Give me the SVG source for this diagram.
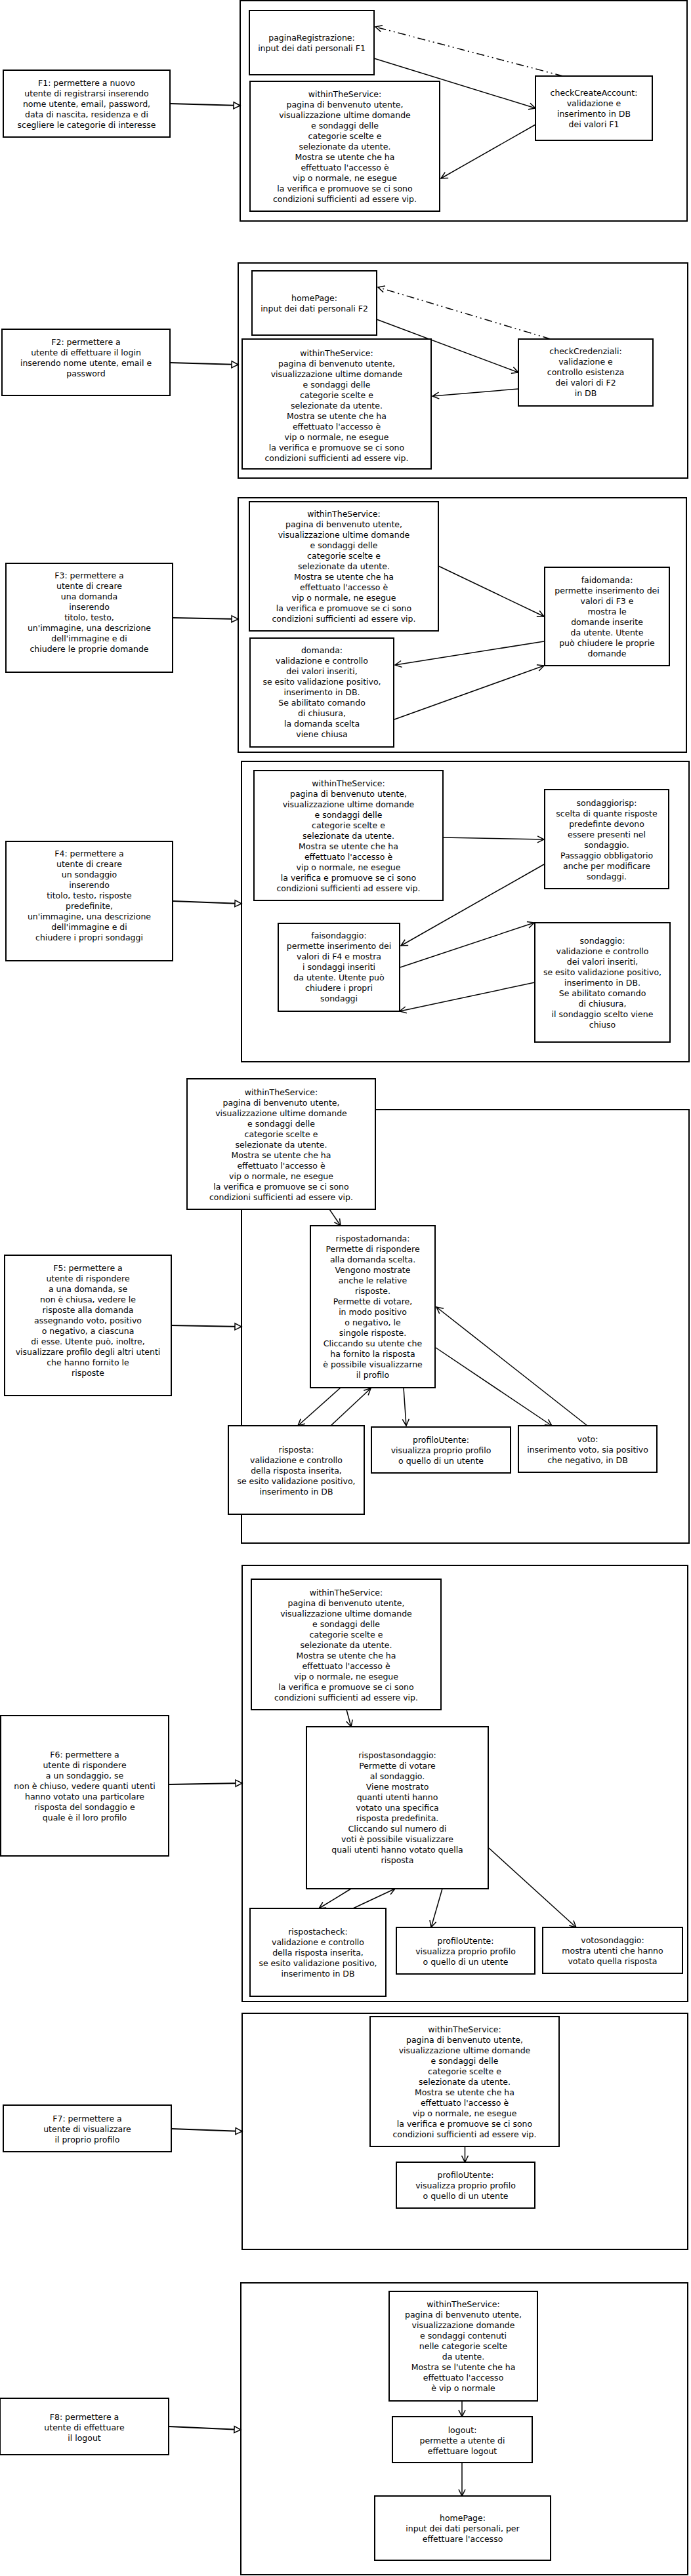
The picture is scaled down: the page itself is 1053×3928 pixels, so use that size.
<svg xmlns="http://www.w3.org/2000/svg" width="1053" height="3928" viewBox="0 0 1053 3928">
<style>
.frame{fill:none;stroke:#000;stroke-width:2}
.box{fill:#fff;stroke:#000;stroke-width:2}
.c{fill:none;stroke:#000;stroke-width:1.5;marker-end:url(#open)}
.f{fill:none;stroke:#000;stroke-width:2;marker-end:url(#tri)}
.dd{stroke-dasharray:12 5 2 5 2 5}
text{font-family:"DejaVu Sans","Liberation Sans",sans-serif;font-size:12.5px;text-anchor:middle;fill:#000}
</style>
<defs>
<marker id="open" markerWidth="12" markerHeight="12" refX="10" refY="5" orient="auto" markerUnits="userSpaceOnUse" overflow="visible"><path d="M0,0 L10,5 L0,10" fill="none" stroke="#000" stroke-width="1.5"/></marker>
<marker id="tri" markerWidth="12" markerHeight="12" refX="10" refY="5" orient="auto" markerUnits="userSpaceOnUse" overflow="visible"><path d="M0,0 L10,5 L0,10 Z" fill="#fff" stroke="#000" stroke-width="1.5"/></marker>
</defs>

<!-- containers -->
<g id="container1"><rect class="frame" x="366" y="1" width="681" height="336"/></g>
<g id="container2"><rect class="frame" x="363" y="401" width="685" height="328"/></g>
<g id="container3"><rect class="frame" x="363" y="759" width="683" height="388"/></g>
<g id="container4"><rect class="frame" x="368" y="1161" width="682" height="458"/></g>
<g id="container5"><rect class="frame" x="368" y="1692" width="682" height="661"/></g>
<g id="container6"><rect class="frame" x="369" y="2387" width="679" height="665"/></g>
<g id="container7"><rect class="frame" x="369" y="3070" width="679" height="360"/></g>
<g id="container8"><rect class="frame" x="367" y="3481" width="681" height="445"/></g>

<g id="connectors">
<!-- section 1 -->
<line class="f" x1="259" y1="158" x2="366" y2="161"/>
<line class="c" x1="570" y1="89" x2="816" y2="165"/>
<line class="c" x1="816" y1="190" x2="672" y2="272"/>
<line class="c dd" x1="858" y1="116" x2="572" y2="41"/>
<!-- section 2 -->
<line class="f" x1="259" y1="553" x2="363" y2="556"/>
<line class="c" x1="574" y1="487" x2="790" y2="568"/>
<line class="c" x1="790" y1="593" x2="659" y2="604"/>
<line class="c dd" x1="839" y1="517" x2="576" y2="438"/>
<!-- section 3 -->
<line class="f" x1="263" y1="942" x2="363" y2="944"/>
<line class="c" x1="668" y1="863" x2="829" y2="940"/>
<line class="c" x1="829" y1="978" x2="602" y2="1014"/>
<line class="c" x1="601" y1="1097" x2="829" y2="1015"/>
<!-- section 4 -->
<line class="f" x1="263" y1="1374" x2="368" y2="1378"/>
<line class="c" x1="675" y1="1277" x2="829" y2="1280"/>
<line class="c" x1="829" y1="1318" x2="611" y2="1442"/>
<line class="c" x1="610" y1="1475" x2="814" y2="1407"/>
<line class="c" x1="815" y1="1498" x2="609" y2="1542"/>
<!-- section 5 -->
<line class="f" x1="261" y1="2021" x2="368" y2="2023"/>
<line class="c" x1="502" y1="1844" x2="519" y2="1869"/>
<line class="c" x1="895" y1="2174" x2="665" y2="1993"/>
<line class="c" x1="664" y1="2055" x2="841" y2="2174"/>
<line class="c" x1="615" y1="2116" x2="619" y2="2174"/>
<line class="c" x1="519" y1="2116" x2="454" y2="2174"/>
<line class="c" x1="504" y1="2174" x2="565" y2="2117"/>
<!-- section 6 -->
<line class="f" x1="257" y1="2721" x2="369" y2="2719"/>
<line class="c" x1="528" y1="2607" x2="535" y2="2633"/>
<line class="c" x1="535" y1="2880" x2="486" y2="2910"/>
<line class="c" x1="538" y1="2910" x2="602" y2="2880"/>
<line class="c" x1="674" y1="2880" x2="657" y2="2939"/>
<line class="c" x1="745" y1="2818" x2="878" y2="2939"/>
<!-- section 7 -->
<line class="f" x1="261" y1="3246" x2="369" y2="3250"/>
<line class="c" x1="708.5" y1="3273" x2="708.5" y2="3297"/>
<!-- section 8 -->
<line class="f" x1="257" y1="3700" x2="367" y2="3705"/>
<line class="c" x1="704" y1="3661" x2="704" y2="3685"/>
<line class="c" x1="704" y1="3755" x2="704" y2="3806"/>
</g>

<!-- Section 1 -->
<g id="F1"><rect class="box" x="5" y="107" width="254" height="102"/>
<text x="132" y="130.5"><tspan x="132">F1: permettere a nuovo</tspan><tspan x="132" dy="16">utente di registrarsi inserendo</tspan><tspan x="132" dy="16">nome utente, email, password,</tspan><tspan x="132" dy="16">data di nascita, residenza e di</tspan><tspan x="132" dy="16">scegliere le categorie di interesse</tspan></text></g>
<g id="paginaRegistrazione"><rect class="box" x="380" y="16" width="190" height="98"/>
<text x="475" y="61.8"><tspan x="475">paginaRegistrazione:</tspan><tspan x="475" dy="16">input dei dati personali F1</tspan></text></g>
<g id="withinTheService1"><rect class="box" x="381" y="124" width="289" height="198"/>
<text x="525.5" y="147.8"><tspan x="525.5">withinTheService:</tspan><tspan x="525.5" dy="16">pagina di benvenuto utente,</tspan><tspan x="525.5" dy="16">visualizzazione ultime domande</tspan><tspan x="525.5" dy="16">e sondaggi delle</tspan><tspan x="525.5" dy="16">categorie scelte e</tspan><tspan x="525.5" dy="16">selezionate da utente.</tspan><tspan x="525.5" dy="16">Mostra se utente che ha</tspan><tspan x="525.5" dy="16">effettuato l'accesso è</tspan><tspan x="525.5" dy="16">vip o normale, ne esegue</tspan><tspan x="525.5" dy="16">la verifica e promuove se ci sono</tspan><tspan x="525.5" dy="16">condizioni sufficienti ad essere vip.</tspan></text></g>
<g id="checkCreateAccount"><rect class="box" x="816" y="116" width="178" height="98"/>
<text x="905" y="145.8"><tspan x="905">checkCreateAccount:</tspan><tspan x="905" dy="16">validazione e</tspan><tspan x="905" dy="16">inserimento in DB</tspan><tspan x="905" dy="16">dei valori F1</tspan></text></g>

<!-- Section 2 -->
<g id="F2"><rect class="box" x="3" y="502" width="256" height="101"/>
<text x="131" y="525.5"><tspan x="131">F2: permettere a</tspan><tspan x="131" dy="16">utente di effettuare il login</tspan><tspan x="131" dy="16">inserendo nome utente, email e</tspan><tspan x="131" dy="16">password</tspan></text></g>
<g id="homePage1"><rect class="box" x="384" y="413" width="190" height="98"/>
<text x="479" y="459"><tspan x="479">homePage:</tspan><tspan x="479" dy="16">input dei dati personali F2</tspan></text></g>
<g id="withinTheService2"><rect class="box" x="369" y="517" width="288" height="198"/>
<text x="513" y="543"><tspan x="513">withinTheService:</tspan><tspan x="513" dy="16">pagina di benvenuto utente,</tspan><tspan x="513" dy="16">visualizzazione ultime domande</tspan><tspan x="513" dy="16">e sondaggi delle</tspan><tspan x="513" dy="16">categorie scelte e</tspan><tspan x="513" dy="16">selezionate da utente.</tspan><tspan x="513" dy="16">Mostra se utente che ha</tspan><tspan x="513" dy="16">effettuato l'accesso è</tspan><tspan x="513" dy="16">vip o normale, ne esegue</tspan><tspan x="513" dy="16">la verifica e promuove se ci sono</tspan><tspan x="513" dy="16">condizioni sufficienti ad essere vip.</tspan></text></g>
<g id="checkCredenziali"><rect class="box" x="790" y="517" width="205" height="102"/>
<text x="892.5" y="539.5"><tspan x="892.5">checkCredenziali:</tspan><tspan x="892.5" dy="16">validazione e</tspan><tspan x="892.5" dy="16">controllo esistenza</tspan><tspan x="892.5" dy="16">dei valori di F2</tspan><tspan x="892.5" dy="16">in DB</tspan></text></g>

<!-- Section 3 -->
<g id="F3"><rect class="box" x="9" y="859" width="254" height="166"/>
<text x="136" y="882.2"><tspan x="136">F3: permettere a</tspan><tspan x="136" dy="16">utente di creare</tspan><tspan x="136" dy="16">una domanda</tspan><tspan x="136" dy="16">inserendo</tspan><tspan x="136" dy="16">titolo, testo,</tspan><tspan x="136" dy="16">un'immagine, una descrizione</tspan><tspan x="136" dy="16">dell'immagine e di</tspan><tspan x="136" dy="16">chiudere le proprie domande</tspan></text></g>
<g id="withinTheService3"><rect class="box" x="380" y="765" width="288" height="197"/>
<text x="524" y="787.8"><tspan x="524">withinTheService:</tspan><tspan x="524" dy="16">pagina di benvenuto utente,</tspan><tspan x="524" dy="16">visualizzazione ultime domande</tspan><tspan x="524" dy="16">e sondaggi delle</tspan><tspan x="524" dy="16">categorie scelte e</tspan><tspan x="524" dy="16">selezionate da utente.</tspan><tspan x="524" dy="16">Mostra se utente che ha</tspan><tspan x="524" dy="16">effettuato l'accesso è</tspan><tspan x="524" dy="16">vip o normale, ne esegue</tspan><tspan x="524" dy="16">la verifica e promuove se ci sono</tspan><tspan x="524" dy="16">condizioni sufficienti ad essere vip.</tspan></text></g>
<g id="domanda"><rect class="box" x="381" y="973" width="219" height="166"/>
<text x="490.5" y="996.2"><tspan x="490.5">domanda:</tspan><tspan x="490.5" dy="16">validazione e controllo</tspan><tspan x="490.5" dy="16">dei valori inseriti,</tspan><tspan x="490.5" dy="16">se esito validazione positivo,</tspan><tspan x="490.5" dy="16">inserimento in DB.</tspan><tspan x="490.5" dy="16">Se abilitato comando</tspan><tspan x="490.5" dy="16">di chiusura,</tspan><tspan x="490.5" dy="16">la domanda scelta</tspan><tspan x="490.5" dy="16">viene chiusa</tspan></text></g>
<g id="faidomanda"><rect class="box" x="830" y="865" width="190" height="150"/>
<text x="925" y="888.8"><tspan x="925">faidomanda:</tspan><tspan x="925" dy="16">permette inserimento dei</tspan><tspan x="925" dy="16">valori di F3 e</tspan><tspan x="925" dy="16">mostra le</tspan><tspan x="925" dy="16">domande inserite</tspan><tspan x="925" dy="16">da utente. Utente</tspan><tspan x="925" dy="16">può chiudere le proprie</tspan><tspan x="925" dy="16">domande</tspan></text></g>

<!-- Section 4 -->
<g id="F4"><rect class="box" x="9" y="1283" width="254" height="182"/>
<text x="136" y="1306.2"><tspan x="136">F4: permettere a</tspan><tspan x="136" dy="16">utente di creare</tspan><tspan x="136" dy="16">un sondaggio</tspan><tspan x="136" dy="16">inserendo</tspan><tspan x="136" dy="16">titolo, testo, risposte</tspan><tspan x="136" dy="16">predefinite,</tspan><tspan x="136" dy="16">un'immagine, una descrizione</tspan><tspan x="136" dy="16">dell'immagine e di</tspan><tspan x="136" dy="16">chiudere i propri sondaggi</tspan></text></g>
<g id="withinTheService4"><rect class="box" x="387" y="1175" width="288" height="198"/>
<text x="531" y="1198.8"><tspan x="531">withinTheService:</tspan><tspan x="531" dy="16">pagina di benvenuto utente,</tspan><tspan x="531" dy="16">visualizzazione ultime domande</tspan><tspan x="531" dy="16">e sondaggi delle</tspan><tspan x="531" dy="16">categorie scelte e</tspan><tspan x="531" dy="16">selezionate da utente.</tspan><tspan x="531" dy="16">Mostra se utente che ha</tspan><tspan x="531" dy="16">effettuato l'accesso è</tspan><tspan x="531" dy="16">vip o normale, ne esegue</tspan><tspan x="531" dy="16">la verifica e promuove se ci sono</tspan><tspan x="531" dy="16">condizioni sufficienti ad essere vip.</tspan></text></g>
<g id="sondaggiorisp"><rect class="box" x="830" y="1204" width="189" height="151"/>
<text x="924.5" y="1228.5"><tspan x="924.5">sondaggiorisp:</tspan><tspan x="924.5" dy="16">scelta di quante risposte</tspan><tspan x="924.5" dy="16">predefinte devono</tspan><tspan x="924.5" dy="16">essere presenti nel</tspan><tspan x="924.5" dy="16">sondaggio.</tspan><tspan x="924.5" dy="16">Passaggio obbligatorio</tspan><tspan x="924.5" dy="16">anche per modificare</tspan><tspan x="924.5" dy="16">sondaggi.</tspan></text></g>
<g id="faisondaggio"><rect class="box" x="424" y="1408" width="185" height="134"/>
<text x="516.5" y="1431.2"><tspan x="516.5">faisondaggio:</tspan><tspan x="516.5" dy="16">permette inserimento dei</tspan><tspan x="516.5" dy="16">valori di F4 e mostra</tspan><tspan x="516.5" dy="16">i sondaggi inseriti</tspan><tspan x="516.5" dy="16">da utente. Utente può</tspan><tspan x="516.5" dy="16">chiudere i propri</tspan><tspan x="516.5" dy="16">sondaggi</tspan></text></g>
<g id="sondaggio"><rect class="box" x="815" y="1407" width="206" height="182"/>
<text x="918" y="1438.5"><tspan x="918">sondaggio:</tspan><tspan x="918" dy="16">validazione e controllo</tspan><tspan x="918" dy="16">dei valori inseriti,</tspan><tspan x="918" dy="16">se esito validazione positivo,</tspan><tspan x="918" dy="16">inserimento in DB.</tspan><tspan x="918" dy="16">Se abilitato comando</tspan><tspan x="918" dy="16">di chiusura,</tspan><tspan x="918" dy="16">il sondaggio scelto viene</tspan><tspan x="918" dy="16">chiuso</tspan></text></g>

<!-- Section 5 -->
<g id="F5"><rect class="box" x="7" y="1914" width="254" height="214"/>
<text x="134" y="1937.8"><tspan x="134">F5: permettere a</tspan><tspan x="134" dy="16">utente di rispondere</tspan><tspan x="134" dy="16">a una domanda, se</tspan><tspan x="134" dy="16">non è chiusa, vedere le</tspan><tspan x="134" dy="16">risposte alla domanda</tspan><tspan x="134" dy="16">assegnando voto, positivo</tspan><tspan x="134" dy="16">o negativo, a ciascuna</tspan><tspan x="134" dy="16">di esse. Utente può, inoltre,</tspan><tspan x="134" dy="16">visualizzare profilo degli altri utenti</tspan><tspan x="134" dy="16">che hanno fornito le</tspan><tspan x="134" dy="16">risposte</tspan></text></g>
<g id="withinTheService5"><rect class="box" x="285" y="1645" width="287" height="199"/>
<text x="428.5" y="1669.5"><tspan x="428.5">withinTheService:</tspan><tspan x="428.5" dy="16">pagina di benvenuto utente,</tspan><tspan x="428.5" dy="16">visualizzazione ultime domande</tspan><tspan x="428.5" dy="16">e sondaggi delle</tspan><tspan x="428.5" dy="16">categorie scelte e</tspan><tspan x="428.5" dy="16">selezionate da utente.</tspan><tspan x="428.5" dy="16">Mostra se utente che ha</tspan><tspan x="428.5" dy="16">effettuato l'accesso è</tspan><tspan x="428.5" dy="16">vip o normale, ne esegue</tspan><tspan x="428.5" dy="16">la verifica e promuove se ci sono</tspan><tspan x="428.5" dy="16">condizioni sufficienti ad essere vip.</tspan></text></g>
<g id="rispostadomanda"><rect class="box" x="473" y="1869" width="190" height="247"/>
<text x="568" y="1892.8"><tspan x="568">rispostadomanda:</tspan><tspan x="568" dy="16">Permette di rispondere</tspan><tspan x="568" dy="16">alla domanda scelta.</tspan><tspan x="568" dy="16">Vengono mostrate</tspan><tspan x="568" dy="16">anche le relative</tspan><tspan x="568" dy="16">risposte.</tspan><tspan x="568" dy="16">Permette di votare,</tspan><tspan x="568" dy="16">in modo positivo</tspan><tspan x="568" dy="16">o negativo, le</tspan><tspan x="568" dy="16">singole risposte.</tspan><tspan x="568" dy="16">Cliccando su utente che</tspan><tspan x="568" dy="16">ha fornito la risposta</tspan><tspan x="568" dy="16">è possibile visualizzarne</tspan><tspan x="568" dy="16">il profilo</tspan></text></g>
<g id="risposta"><rect class="box" x="348" y="2174" width="207" height="135"/>
<text x="451.5" y="2214.5"><tspan x="451.5">risposta:</tspan><tspan x="451.5" dy="16">validazione e controllo</tspan><tspan x="451.5" dy="16">della risposta inserita,</tspan><tspan x="451.5" dy="16">se esito validazione positivo,</tspan><tspan x="451.5" dy="16">inserimento in DB</tspan></text></g>
<g id="profiloUtente5"><rect class="box" x="566" y="2176" width="212" height="70"/>
<text x="672" y="2199.5"><tspan x="672">profiloUtente:</tspan><tspan x="672" dy="16">visualizza proprio profilo</tspan><tspan x="672" dy="16">o quello di un utente</tspan></text></g>
<g id="voto"><rect class="box" x="790" y="2174" width="211" height="71"/>
<text x="895.5" y="2198.5"><tspan x="895.5">voto:</tspan><tspan x="895.5" dy="16">inserimento voto, sia positivo</tspan><tspan x="895.5" dy="16">che negativo, in DB</tspan></text></g>

<!-- Section 6 -->
<g id="F6"><rect class="box" x="1" y="2616" width="256" height="214"/>
<text x="129" y="2679.5"><tspan x="129">F6: permettere a</tspan><tspan x="129" dy="16">utente di rispondere</tspan><tspan x="129" dy="16">a un sondaggio, se</tspan><tspan x="129" dy="16">non è chiuso, vedere quanti utenti</tspan><tspan x="129" dy="16">hanno votato una particolare</tspan><tspan x="129" dy="16">risposta del sondaggio e</tspan><tspan x="129" dy="16">quale è il loro profilo</tspan></text></g>
<g id="withinTheService6"><rect class="box" x="383" y="2408" width="289" height="199"/>
<text x="527.5" y="2432.8"><tspan x="527.5">withinTheService:</tspan><tspan x="527.5" dy="16">pagina di benvenuto utente,</tspan><tspan x="527.5" dy="16">visualizzazione ultime domande</tspan><tspan x="527.5" dy="16">e sondaggi delle</tspan><tspan x="527.5" dy="16">categorie scelte e</tspan><tspan x="527.5" dy="16">selezionate da utente.</tspan><tspan x="527.5" dy="16">Mostra se utente che ha</tspan><tspan x="527.5" dy="16">effettuato l'accesso è</tspan><tspan x="527.5" dy="16">vip o normale, ne esegue</tspan><tspan x="527.5" dy="16">la verifica e promuove se ci sono</tspan><tspan x="527.5" dy="16">condizioni sufficienti ad essere vip.</tspan></text></g>
<g id="rispostasondaggio"><rect class="box" x="467" y="2633" width="277" height="247"/>
<text x="605.5" y="2680.5"><tspan x="605.5">rispostasondaggio:</tspan><tspan x="605.5" dy="16">Permette di votare</tspan><tspan x="605.5" dy="16">al sondaggio.</tspan><tspan x="605.5" dy="16">Viene mostrato</tspan><tspan x="605.5" dy="16">quanti utenti hanno</tspan><tspan x="605.5" dy="16">votato una specifica</tspan><tspan x="605.5" dy="16">risposta predefinita.</tspan><tspan x="605.5" dy="16">Cliccando sul numero di</tspan><tspan x="605.5" dy="16">voti è possibile visualizzare</tspan><tspan x="605.5" dy="16">quali utenti hanno votato quella</tspan><tspan x="605.5" dy="16">risposta</tspan></text></g>
<g id="rispostacheck"><rect class="box" x="381" y="2910" width="207" height="134"/>
<text x="484.5" y="2950.2"><tspan x="484.5">rispostacheck:</tspan><tspan x="484.5" dy="16">validazione e controllo</tspan><tspan x="484.5" dy="16">della risposta inserita,</tspan><tspan x="484.5" dy="16">se esito validazione positivo,</tspan><tspan x="484.5" dy="16">inserimento in DB</tspan></text></g>
<g id="profiloUtente6"><rect class="box" x="604" y="2939" width="211" height="71"/>
<text x="709.5" y="2963.5"><tspan x="709.5">profiloUtente:</tspan><tspan x="709.5" dy="16">visualizza proprio profilo</tspan><tspan x="709.5" dy="16">o quello di un utente</tspan></text></g>
<g id="votosondaggio"><rect class="box" x="827" y="2939" width="213" height="70"/>
<text x="933.5" y="2962.8"><tspan x="933.5">votosondaggio:</tspan><tspan x="933.5" dy="16">mostra utenti che hanno</tspan><tspan x="933.5" dy="16">votato quella risposta</tspan></text></g>

<!-- Section 7 -->
<g id="F7"><rect class="box" x="5" y="3210" width="256" height="71"/>
<text x="133" y="3234.5"><tspan x="133">F7: permettere a</tspan><tspan x="133" dy="16">utente di visualizzare</tspan><tspan x="133" dy="16">il proprio profilo</tspan></text></g>
<g id="withinTheService7"><rect class="box" x="564" y="3075" width="288" height="198"/>
<text x="708" y="3098.5"><tspan x="708">withinTheService:</tspan><tspan x="708" dy="16">pagina di benvenuto utente,</tspan><tspan x="708" dy="16">visualizzazione ultime domande</tspan><tspan x="708" dy="16">e sondaggi delle</tspan><tspan x="708" dy="16">categorie scelte e</tspan><tspan x="708" dy="16">selezionate da utente.</tspan><tspan x="708" dy="16">Mostra se utente che ha</tspan><tspan x="708" dy="16">effettuato l'accesso è</tspan><tspan x="708" dy="16">vip o normale, ne esegue</tspan><tspan x="708" dy="16">la verifica e promuove se ci sono</tspan><tspan x="708" dy="16">condizioni sufficienti ad essere vip.</tspan></text></g>
<g id="profiloUtente7"><rect class="box" x="604" y="3297" width="211" height="70"/>
<text x="709.5" y="3320.5"><tspan x="709.5">profiloUtente:</tspan><tspan x="709.5" dy="16">visualizza proprio profilo</tspan><tspan x="709.5" dy="16">o quello di un utente</tspan></text></g>

<!-- Section 8 -->
<g id="F8"><rect class="box" x="0" y="3657" width="257" height="86"/>
<text x="128.5" y="3689.5"><tspan x="128.5">F8: permettere a</tspan><tspan x="128.5" dy="16">utente di effettuare</tspan><tspan x="128.5" dy="16">il logout</tspan></text></g>
<g id="withinTheService8"><rect class="box" x="593" y="3494" width="226" height="167"/>
<text x="706" y="3517.8"><tspan x="706">withinTheService:</tspan><tspan x="706" dy="16">pagina di benvenuto utente,</tspan><tspan x="706" dy="16">visualizzazione domande</tspan><tspan x="706" dy="16">e sondaggi contenuti</tspan><tspan x="706" dy="16">nelle categorie scelte</tspan><tspan x="706" dy="16">da utente.</tspan><tspan x="706" dy="16">Mostra se l'utente che ha</tspan><tspan x="706" dy="16">effettuato l'accesso</tspan><tspan x="706" dy="16">è vip o normale</tspan></text></g>
<g id="logout"><rect class="box" x="598" y="3685" width="213" height="70"/>
<text x="704.5" y="3709.5"><tspan x="704.5">logout:</tspan><tspan x="704.5" dy="16">permette a utente di</tspan><tspan x="704.5" dy="16">effettuare logout</tspan></text></g>
<g id="homePage8"><rect class="box" x="571" y="3806" width="268" height="98"/>
<text x="705" y="3843.8"><tspan x="705">homePage:</tspan><tspan x="705" dy="16">input dei dati personali, per</tspan><tspan x="705" dy="16">effettuare l'accesso</tspan></text></g>
</svg>
